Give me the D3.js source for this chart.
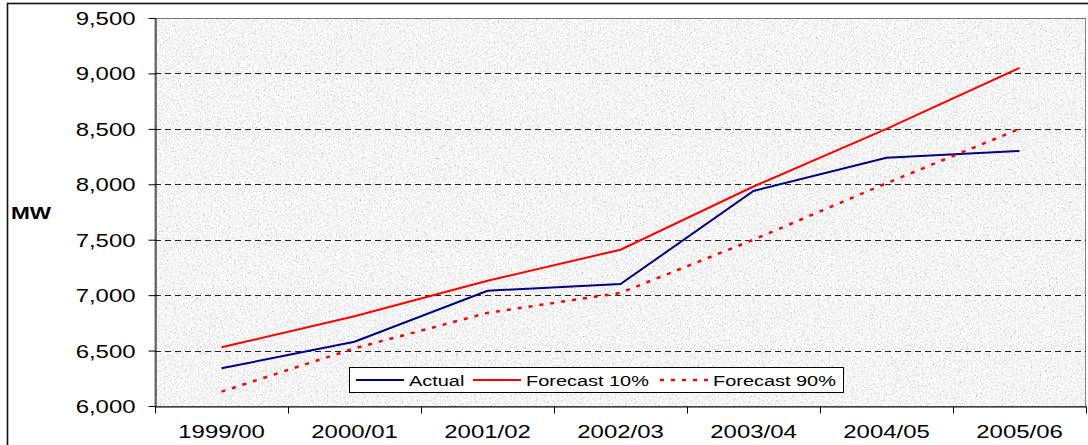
<!DOCTYPE html>
<html>
<head>
<meta charset="utf-8">
<script src="https://cdn.jsdelivr.net/npm/d3@7"></script>
<style>
  html, body { margin: 0; padding: 0; background: #fff; }
  svg { display: block; }
  text { font-family: "Liberation Sans", Arial, sans-serif; fill: #000; }
</style>
</head>
<body>
<svg id="chart" width="1088" height="445"></svg>
<script>
// Peak demand by financial year (MW)
const categories = ["1999/00", "2000/01", "2001/02", "2002/03", "2003/04", "2004/05", "2005/06"];
const actual     = [6340, 6580, 7040, 7100, 7940, 8240, 8300];
const forecast10 = [6530, 6810, 7130, 7410, 7980, 8500, 9050];
const forecast90 = [6130, 6520, 6840, 7020, 7500, 8010, 8500];
const yTicks     = [6000, 6500, 7000, 7500, 8000, 8500, 9000, 9500];
const yLabel     = "MW";

const series = [
  { name: "Actual",       values: actual,     color: "#000080", width: 2,   dash: null },
  { name: "Forecast 10%", values: forecast10, color: "#ff0000", width: 2,   dash: null },
  { name: "Forecast 90%", values: forecast90, color: "#ff0000", width: 2.5, dash: "4,7" }
];

const W = 1088, H = 445;
const plot = { left: 155, top: 18, right: 1086, bottom: 406 };
const SX = 1.33; // horizontal stretch of all text

const svg = d3.select("#chart");

// grainy fill for the plot area
const defs = svg.append("defs");
const f = defs.append("filter").attr("id", "grain")
  .attr("filterUnits", "userSpaceOnUse")
  .attr("x", plot.left).attr("y", plot.top)
  .attr("width", plot.right - plot.left).attr("height", plot.bottom - plot.top);
f.append("feTurbulence").attr("type", "fractalNoise")
  .attr("baseFrequency", 0.55).attr("numOctaves", 3).attr("seed", 7).attr("result", "n");
f.append("feColorMatrix").attr("in", "n").attr("type", "matrix")
  .attr("values", "0.45 0.45 0.45 0 0.24  0.45 0.45 0.45 0 0.24  0.45 0.45 0.45 0 0.24  0 0 0 0 1");

// outer chart frame (runs off the right and bottom edges)
svg.append("rect")
  .attr("x", 7.5).attr("y", 3.5).attr("width", W + 20).attr("height", H + 20)
  .attr("fill", "#fff").attr("stroke", "#111").attr("stroke-width", 1.6);

const x = d3.scaleBand().domain(categories).range([plot.left, plot.right]).padding(0);
const y = d3.scaleLinear().domain([6000, 9500]).range([plot.bottom, plot.top]);

// plot background
svg.append("rect")
  .attr("x", plot.left).attr("y", plot.top)
  .attr("width", plot.right - plot.left).attr("height", plot.bottom - plot.top)
  .attr("fill", "#e6e6e6").attr("filter", "url(#grain)");
svg.append("rect")
  .attr("x", plot.left).attr("y", plot.top + 0.5)
  .attr("width", plot.right - plot.left - 0.5).attr("height", plot.bottom - plot.top)
  .attr("fill", "none").attr("stroke", "#808080").attr("stroke-width", 1);

// dashed horizontal gridlines
svg.append("g").selectAll("line")
  .data(yTicks.filter(v => v > 6000))
  .join("line")
  .attr("x1", plot.left).attr("x2", plot.right)
  .attr("y1", d => Math.round(y(d)) + 0.5).attr("y2", d => Math.round(y(d)) + 0.5)
  .attr("stroke", d => d === 9500 ? "#707070" : "#222")
  .attr("stroke-width", 1)
  .attr("stroke-dasharray", "6,4");

// y axis
const yAxis = svg.append("g")
  .attr("transform", `translate(${plot.left + 0.5},0)`)
  .call(d3.axisLeft(y).tickValues(yTicks).tickFormat(d3.format(",")).tickSize(7).tickSizeOuter(0));
yAxis.select(".domain").attr("stroke", "#000");
yAxis.selectAll(".tick line").attr("stroke", "#000");
yAxis.selectAll(".tick text")
  .attr("font-size", 18).attr("font-family", null)
  .attr("x", -20 / SX).attr("dy", "0.36em")
  .attr("transform", `scale(${SX},1)`);

// x axis: labels centred in each band, ticks on band boundaries
const xAxis = svg.append("g")
  .attr("transform", `translate(0,${plot.bottom + 0.5})`)
  .call(d3.axisBottom(x).tickSize(0).tickSizeOuter(0));
xAxis.select(".domain").attr("stroke", "#000");
xAxis.selectAll(".tick line").remove();
xAxis.selectAll(".tick text")
  .attr("font-size", 18).attr("font-family", null)
  .attr("y", 32).attr("dy", 0)
  .attr("transform", `scale(${SX},1)`);
const bounds = categories.map(c => x(c)).concat([x(categories[categories.length - 1]) + x.bandwidth()]);
xAxis.append("g").selectAll("line")
  .data(bounds)
  .join("line")
  .attr("x1", d => Math.round(d) + 0.5).attr("x2", d => Math.round(d) + 0.5)
  .attr("y1", 0).attr("y2", 7)
  .attr("stroke", "#000");

// axis title
svg.append("text")
  .attr("transform", `translate(11,219) scale(${SX},1)`)
  .attr("font-size", 17).attr("font-weight", "bold")
  .text(yLabel);

// series lines
const line = d3.line()
  .x((d, i) => x(categories[i]) + x.bandwidth() / 2)
  .y(d => y(d));
svg.append("g").selectAll("path")
  .data(series)
  .join("path")
  .attr("d", s => line(s.values))
  .attr("fill", "none")
  .attr("stroke", s => s.color)
  .attr("stroke-width", s => s.width)
  .attr("stroke-dasharray", s => s.dash);

// legend
const legend = svg.append("g");
legend.append("rect")
  .attr("x", 349.5).attr("y", 367.5).attr("width", 494).attr("height", 25)
  .attr("fill", "#fff").attr("stroke", "#000").attr("stroke-width", 1);
const legendX = [356, 473, 660];
const items = legend.selectAll("g.item")
  .data(series)
  .join("g").attr("class", "item")
  .attr("transform", (d, i) => `translate(${legendX[i]},380)`);
items.append("line")
  .attr("x1", 0).attr("x2", 48).attr("y1", 0).attr("y2", 0)
  .attr("stroke", s => s.color)
  .attr("stroke-width", s => s.width)
  .attr("stroke-dasharray", s => s.dash);
items.append("text")
  .attr("transform", `translate(53,5.5) scale(${SX},1)`)
  .attr("font-size", 15)
  .text(s => s.name);
</script>
</body>
</html>
